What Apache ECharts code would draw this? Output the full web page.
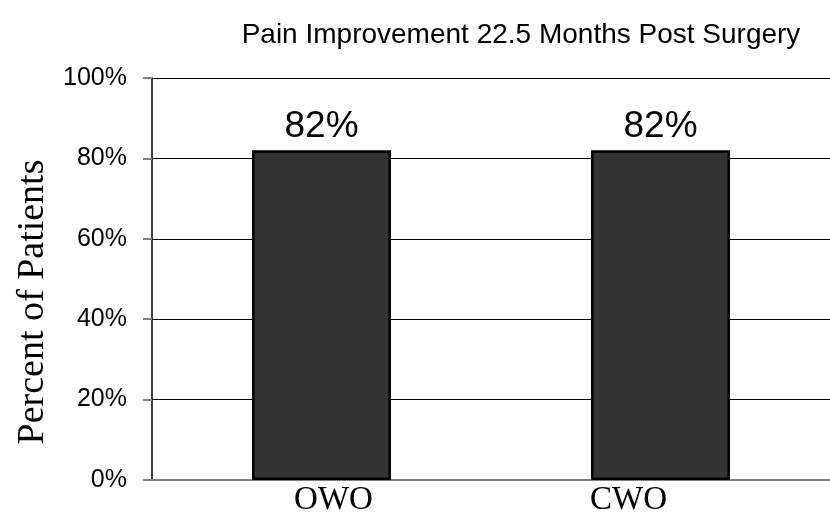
<!DOCTYPE html>
<html>
<head>
<meta charset="utf-8">
<script src="https://cdn.jsdelivr.net/npm/echarts@6/dist/echarts.min.js"></script>
<style>
  html, body { margin: 0; padding: 0; background: #fff; }
  #chart { width: 830px; height: 520px; }
</style>
</head>
<body>
<div id="chart"></div>
<script>
// Share of patients reporting pain improvement, by procedure
const categories = ['OWO', 'CWO'];
const percentImproved = [82, 82];
const yTicks = [0, 20, 40, 60, 80, 100];

// Category labels sit slightly off the bar centres
const labelShift = { OWO: 12, CWO: -32 };

const richStyles = {};
categories.forEach(function (c) {
  const s = labelShift[c] || 0;
  richStyles[c] = {
    fontFamily: 'Liberation Serif, Times New Roman, serif',
    fontSize: 33,
    color: '#000',
    padding: s >= 0 ? [0, 0, 0, 2 * s] : [0, -2 * s, 0, 0]
  };
});

const chart = echarts.init(document.getElementById('chart'), null, { renderer: 'canvas' });

chart.setOption({
  backgroundColor: '#ffffff',
  animation: false,
  title: {
    text: 'Pain Improvement 22.5 Months Post Surgery',
    left: 516,
    textAlign: 'center',
    top: 16,
    textStyle: {
      fontFamily: 'Liberation Sans, Arial, sans-serif',
      fontWeight: 'normal',
      fontSize: 28,
      color: '#000'
    }
  },
  graphic: [{
    type: 'text',
    rotation: Math.PI / 2,
    x: 33,
    y: 302,
    style: {
      text: 'Percent of Patients',
      font: '38px "Liberation Serif", "Times New Roman", serif',
      fill: '#000',
      textAlign: 'center',
      textVerticalAlign: 'middle'
    }
  }],
  grid: { left: 152, right: -12, top: 78, bottom: 40, containLabel: false },
  xAxis: {
    type: 'category',
    data: categories,
    axisLine: { show: true, lineStyle: { color: '#808080', width: 2 } },
    axisTick: { show: false },
    axisLabel: {
      margin: 4,
      formatter: function (v) { return '{' + v + '|' + v + '}'; },
      rich: richStyles
    }
  },
  yAxis: {
    type: 'value',
    min: yTicks[0],
    max: yTicks[yTicks.length - 1],
    interval: 20,
    axisLine: { show: true, lineStyle: { color: '#000', width: 1.5 } },
    axisTick: { show: true, length: 9, lineStyle: { color: '#808080', width: 2 } },
    axisLabel: {
      formatter: '{value}%',
      fontFamily: 'Liberation Sans, Arial, sans-serif',
      fontSize: 25,
      color: '#000',
      margin: 25
    },
    splitLine: { show: true, lineStyle: { color: '#000', width: 1 } }
  },
  series: [{
    type: 'bar',
    data: percentImproved,
    barWidth: '41%',
    itemStyle: { color: '#333333', borderColor: '#000', borderWidth: 2.5 },
    label: {
      show: true,
      position: 'top',
      formatter: '{c}%',
      distance: 5,
      fontFamily: 'Liberation Sans, Arial, sans-serif',
      fontSize: 37,
      color: '#000'
    }
  }]
});
</script>
</body>
</html>
